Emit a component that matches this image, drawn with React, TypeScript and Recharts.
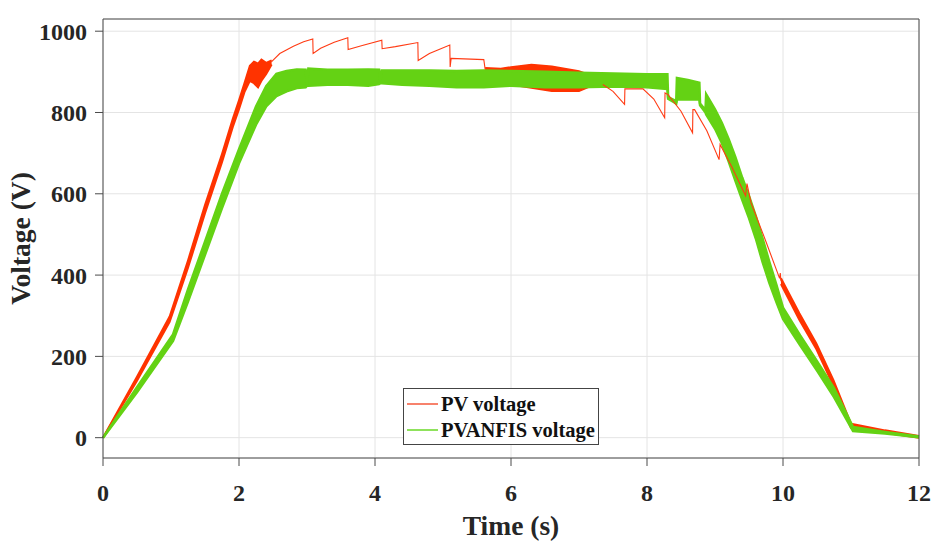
import {
  Area,
  CartesianGrid,
  ComposedChart,
  Legend,
  Line,
  XAxis,
  YAxis,
} from "recharts";

const X_TICKS = [0, 2, 4, 6, 8, 10, 12];
const Y_TICKS = [0, 200, 400, 600, 800, 1000];

const LEGEND_NAMES = ["PV voltage", "PVANFIS voltage"];
const LEGEND_COLORS = ["#f7826c", "#8fe25c"];

// PV voltage: thick parts drawn as bands, thin parts as plain lines
const RED_RISE_T = [0, 0.5, 0.98, 1.25, 1.5, 1.75, 1.91, 2.0, 2.08, 2.16, 2.22, 2.28, 2.33, 2.4, 2.48];
const RED_RISE_LO = [0, 140, 285, 418, 552, 678, 765, 808, 850, 878, 872, 862, 878, 895, 918];
const RED_RISE_HI = [0, 150, 298, 436, 572, 698, 785, 830, 872, 915, 925, 920, 930, 922, 928];

const RED_A_T = [2.48, 2.6, 2.8, 2.95, 3.085, 3.09, 3.2, 3.4, 3.6, 3.605, 3.8, 4.1, 4.105, 4.3, 4.63, 4.635, 4.8, 5.1, 5.105, 5.12, 5.6, 5.62];
const RED_A_V = [925, 945, 963, 974, 981, 945, 958, 973, 984, 955, 964, 978, 957, 962, 972, 928, 945, 966, 912, 933, 930, 906];

const RED_MID_T = [5.62, 5.85, 6.0, 6.3, 6.6, 7.0, 7.2, 7.35];
const RED_MID_LO = [902, 896, 868, 860, 852, 852, 866, 868];
const RED_MID_HI = [910, 908, 912, 918, 914, 902, 890, 872];

const RED_B_T = [7.35, 7.5, 7.67, 7.675, 7.94, 8.1, 8.26, 8.265, 8.31, 8.5, 8.67, 8.675, 8.7, 8.88, 9.06, 9.075, 9.25, 9.45, 9.47, 9.53, 9.75, 9.95, 9.96, 9.97];
const RED_B_V = [869, 852, 820, 858, 858, 833, 787, 848, 844, 803, 750, 807, 807, 755, 684, 721, 665, 595, 625, 578, 482, 392, 405, 385];

const RED_FALL_T = [9.97, 10.24, 10.49, 10.74, 11.0, 11.5, 12];
const RED_FALL_LO = [378, 290, 218, 128, 24, 12, 0];
const RED_FALL_HI = [392, 306, 232, 142, 34, 18, 4];

// PVANFIS voltage band (low / high edge of the noisy trace)
const GREEN_T = [0, 0.5, 1.03, 1.25, 1.5, 1.75, 2.0, 2.25, 2.4, 2.55, 2.7, 2.85, 2.98, 3.0, 3.02, 3.3, 3.6, 3.9, 4.06, 4.08, 4.1, 4.4, 4.8, 5.2, 5.6, 6.0, 6.5, 7.0, 7.5, 8.0, 8.3, 8.31, 8.43, 8.44, 8.6, 8.77, 8.78, 8.86, 8.87, 9.0, 9.1, 9.2, 9.3, 9.4, 9.5, 9.6, 9.7, 9.8, 9.9, 10.0, 10.25, 10.5, 10.75, 11.03, 11.5, 12];
const GREEN_LO = [0, 112, 238, 335, 450, 565, 675, 770, 815, 840, 852, 860, 862, 866, 866, 868, 868, 866, 870, 872, 872, 868, 866, 862, 862, 866, 862, 862, 864, 862, 858, 834, 822, 832, 832, 832, 818, 800, 795, 760, 725, 680, 632, 585, 540, 490, 432, 380, 335, 292, 228, 165, 100, 16, 10, 1];
const GREEN_HI = [0, 124, 254, 365, 482, 600, 710, 815, 865, 895, 902, 906, 905, 870, 908, 905, 905, 906, 905, 876, 903, 903, 903, 902, 903, 902, 900, 898, 896, 894, 894, 838, 828, 885, 880, 873, 822, 806, 845, 808, 775, 735, 690, 640, 595, 545, 490, 432, 378, 320, 252, 188, 122, 26, 14, 3];

const RED = "#ff3300";
const RED_THIN = "#ff3b14";
const GREEN = "#64d214";

const band = (t: number[], lo: number[], hi: number[]) =>
  t.map((x, i) => ({ t: x, band: [lo[i], hi[i]] }));
const line = (t: number[], v: number[]) => t.map((x, i) => ({ t: x, v: v[i] }));

const tickFont = {
  fontFamily: "'Liberation Serif', 'Times New Roman', serif",
  fontWeight: 700,
  fontSize: 24,
  fill: "#262626",
};

function LegendBox() {
  return (
    <div
      style={{
        border: "1px solid #444",
        background: "#fff",
        padding: "2px 0 0 3px",
        fontFamily: "'Liberation Serif', 'Times New Roman', serif",
        fontWeight: 700,
        fontSize: 20.5,
        color: "#111",
        boxSizing: "border-box",
        width: 196,
        height: 57,
      }}
    >
      {LEGEND_NAMES.map((name, i) => (
        <div key={name} style={{ display: "flex", alignItems: "center", height: 26, whiteSpace: "nowrap" }}>
          <span style={{ display: "inline-block", width: 31, height: 1.5, background: LEGEND_COLORS[i], marginRight: 3 }} />
          {name}
        </div>
      ))}
    </div>
  );
}

export default function App() {
  const empty = () => <g />;
  return (
    <div style={{ position: "absolute", left: 0, top: 0, background: "#fff" }}>
      <ComposedChart width={936} height={547} margin={{ top: 9, right: 7, bottom: 0, left: 3 }}>
        <CartesianGrid stroke="#e4e4e4" />
        <XAxis
          type="number"
          dataKey="t"
          domain={[0, 12]}
          ticks={X_TICKS}
          height={89}
          tickSize={8}
          tickMargin={18}
          stroke="#4a4a4a"
          tick={tickFont}
          label={{
            value: "Time (s)",
            position: "insideBottom",
            offset: 12,
            style: { ...tickFont, fontSize: 27.5 },
          }}
        />
        <XAxis
          xAxisId="top"
          orientation="top"
          type="number"
          dataKey="t"
          domain={[0, 12]}
          ticks={X_TICKS}
          height={10}
          tickSize={8}
          stroke="#4a4a4a"
          tick={empty}
        />
        <YAxis
          type="number"
          domain={[-50, 1030]}
          ticks={Y_TICKS}
          width={100}
          tickSize={8}
          tickMargin={8}
          stroke="#4a4a4a"
          tick={tickFont}
          label={{
            value: "Voltage (V)",
            angle: -90,
            position: "insideLeft",
            offset: 17,
            style: { ...tickFont, fontSize: 27.5, textAnchor: "middle" },
          }}
        />
        <YAxis
          yAxisId="right"
          orientation="right"
          type="number"
          domain={[-50, 1030]}
          ticks={Y_TICKS}
          width={10}
          tickSize={8}
          stroke="#4a4a4a"
          tick={empty}
        />
        <Area
          data={band(RED_RISE_T, RED_RISE_LO, RED_RISE_HI)}
          dataKey="band"
          type="linear"
          stroke={RED}
          strokeWidth={2}
          fill={RED}
          fillOpacity={1}
          isAnimationActive={false}
          legendType="none"
        />
        <Line
          data={line(RED_A_T, RED_A_V)}
          dataKey="v"
          type="linear"
          stroke={RED_THIN}
          strokeWidth={1.1}
          dot={false}
          isAnimationActive={false}
          legendType="none"
        />
        <Area
          data={band(RED_MID_T, RED_MID_LO, RED_MID_HI)}
          dataKey="band"
          type="linear"
          stroke={RED}
          strokeWidth={1.5}
          fill={RED}
          fillOpacity={1}
          isAnimationActive={false}
          legendType="none"
        />
        <Line
          data={line(RED_B_T, RED_B_V)}
          dataKey="v"
          type="linear"
          stroke={RED_THIN}
          strokeWidth={1.1}
          dot={false}
          isAnimationActive={false}
          legendType="none"
        />
        <Area
          data={band(RED_FALL_T, RED_FALL_LO, RED_FALL_HI)}
          dataKey="band"
          type="linear"
          stroke={RED}
          strokeWidth={2}
          fill={RED}
          fillOpacity={1}
          isAnimationActive={false}
          legendType="none"
        />
        <Area
          data={band(GREEN_T, GREEN_LO, GREEN_HI)}
          dataKey="band"
          type="linear"
          stroke={GREEN}
          strokeWidth={2.5}
          fill={GREEN}
          fillOpacity={1}
          isAnimationActive={false}
          legendType="none"
        />
        <Legend
          layout="vertical"
          align="center"
          verticalAlign="middle"
          wrapperStyle={{ left: 403, top: 388, width: 196, height: 57, bottom: "auto", right: "auto" }}
          content={() => <LegendBox />}
        />
      </ComposedChart>
    </div>
  );
}
